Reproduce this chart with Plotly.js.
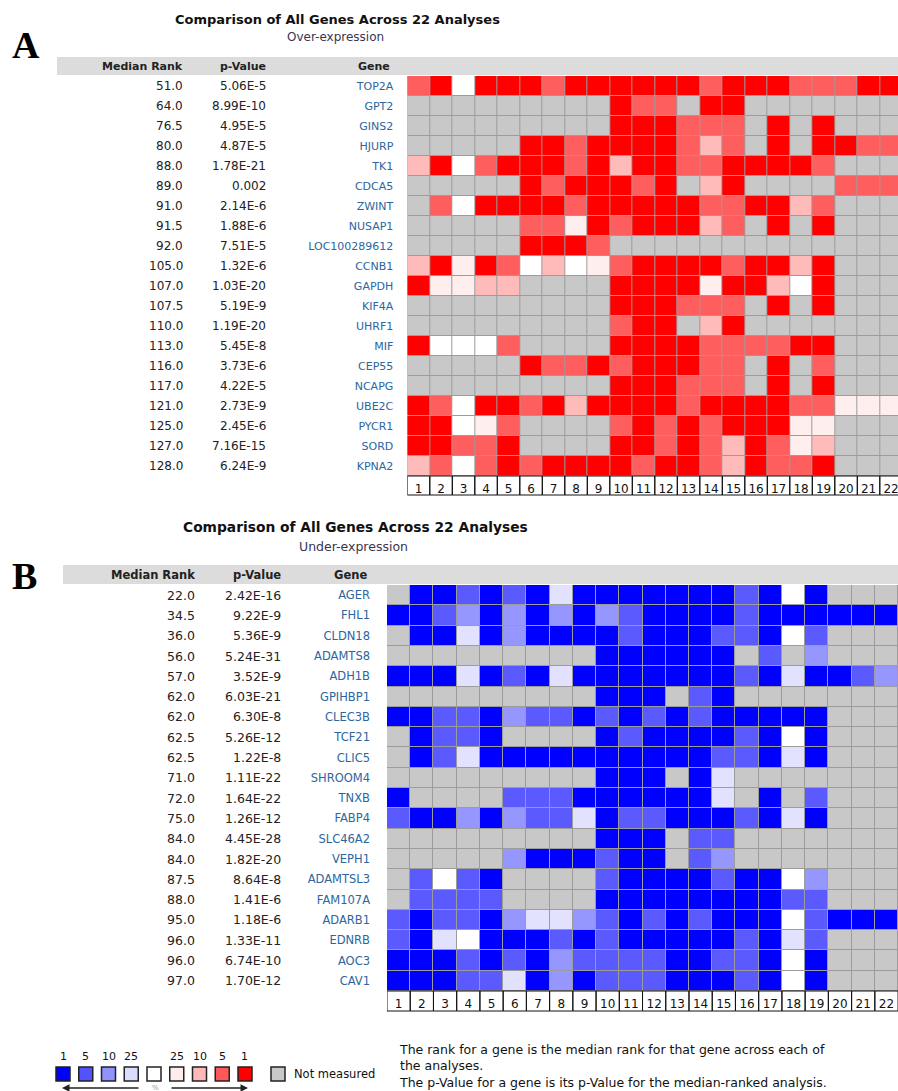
<!DOCTYPE html>
<html><head><meta charset="utf-8">
<script src="https://cdn.plot.ly/plotly-3.0.1.min.js"></script>
<style>html,body{margin:0;padding:0;background:#fff;overflow:hidden;} #chart{width:898px;height:1091px;}</style>
</head><body><div id="chart"></div>
<script>
// ---------- data ----------
const analyses = ["1","2","3","4","5","6","7","8","9","10","11","12","13","14","15","16","17","18","19","20","21","22"];

const genesA = ["TOP2A","GPT2","GINS2","HJURP","TK1","CDCA5","ZWINT","NUSAP1","LOC100289612","CCNB1","GAPDH","KIF4A","UHRF1","MIF","CEP55","NCAPG","UBE2C","PYCR1","SORD","KPNA2"];
const medianRankA = ["51.0","64.0","76.5","80.0","88.0","89.0","91.0","91.5","92.0","105.0","107.0","107.5","110.0","113.0","116.0","117.0","121.0","125.0","127.0","128.0"];
const pValueA = ["5.06E-5","8.99E-10","4.95E-5","4.87E-5","1.78E-21","0.002","2.14E-6","1.88E-6","7.51E-5","1.32E-6","1.03E-20","5.19E-9","1.19E-20","5.45E-8","3.73E-6","4.22E-5","2.73E-9","2.45E-6","7.16E-15","6.24E-9"];
// levels: 0 = not measured, 1 = not significant, 2 = top 25%, 3 = top 10%, 4 = top 5%, 5 = top 1%
const overA = [
 [4,5,1,5,5,5,4,5,5,5,5, 5,5,4,5,5,5,4,4,4,5,5],
 [0,0,0,0,0,0,0,0,0,5,4, 4,0,5,5,0,0,0,0,0,0,0],
 [0,0,0,0,0,0,0,0,0,5,5, 5,4,4,4,0,5,0,5,0,0,0],
 [0,0,0,0,0,5,5,4,5,5,5, 5,4,3,4,0,5,0,5,5,4,4],
 [3,5,1,4,5,5,5,4,5,3,5, 5,4,4,5,5,5,5,4,0,0,0],
 [0,0,0,0,0,5,4,5,5,5,4, 5,0,3,5,0,0,0,0,4,4,4],
 [0,4,1,5,5,5,5,4,5,5,5, 5,5,4,4,5,5,3,4,0,0,0],
 [0,0,0,0,0,4,4,2,5,4,5, 5,5,3,4,0,5,0,5,0,0,0],
 [0,0,0,0,0,5,5,5,4,0,0, 0,0,0,0,0,0,0,0,0,0,0],
 [3,5,2,5,4,1,3,1,2,4,5, 5,5,5,4,5,5,3,5,0,0,0],
 [5,2,2,3,3,0,0,0,0,5,5, 5,5,2,5,5,3,1,5,0,0,0],
 [0,0,0,0,0,0,0,0,0,5,5, 5,4,4,4,0,5,0,5,0,0,0],
 [0,0,0,0,0,0,0,0,0,4,5, 5,0,3,5,0,0,0,0,0,0,0],
 [5,1,1,1,4,0,0,0,0,5,5, 5,5,4,4,4,4,5,5,0,0,0],
 [0,0,0,0,0,5,4,4,5,4,5, 5,5,4,4,0,5,0,4,0,0,0],
 [0,0,0,0,0,0,0,0,0,5,5, 5,4,4,4,0,5,0,5,0,0,0],
 [5,4,1,5,5,4,5,3,5,5,5, 5,4,5,5,5,5,4,4,2,2,2],
 [5,5,1,2,4,0,0,0,0,4,5, 4,5,4,5,5,5,2,2,0,0,0],
 [5,5,4,4,5,0,0,0,0,5,5, 4,5,4,3,5,4,2,3,0,0,0],
 [3,4,1,4,5,4,5,5,5,5,4, 5,5,4,3,5,4,4,5,0,0,0]
];

const genesB = ["AGER","FHL1","CLDN18","ADAMTS8","ADH1B","GPIHBP1","CLEC3B","TCF21","CLIC5","SHROOM4","TNXB","FABP4","SLC46A2","VEPH1","ADAMTSL3","FAM107A","ADARB1","EDNRB","AOC3","CAV1"];
const medianRankB = ["22.0","34.5","36.0","56.0","57.0","62.0","62.0","62.5","62.5","71.0","72.0","75.0","84.0","84.0","87.5","88.0","95.0","96.0","96.0","97.0"];
const pValueB = ["2.42E-16","9.22E-9","5.36E-9","5.24E-31","3.52E-9","6.03E-21","6.30E-8","5.26E-12","1.22E-8","1.11E-22","1.64E-22","1.26E-12","4.45E-28","1.82E-20","8.64E-8","1.41E-6","1.18E-6","1.33E-11","6.74E-10","1.70E-12"];
const underB = [
 [0,5,5,4,5,4,5,2,5,5,5, 5,5,5,5,4,5,1,5,0,0,0],
 [5,5,4,3,5,3,5,3,5,3,4, 5,5,5,5,4,5,5,5,5,5,5],
 [0,5,5,2,5,3,5,5,5,5,4, 5,5,5,4,4,5,1,4,0,0,0],
 [0,0,0,0,0,0,0,0,0,5,5, 5,5,5,5,0,4,0,3,0,0,0],
 [5,5,5,2,5,4,5,2,5,5,5, 5,5,5,5,4,5,2,5,5,4,3],
 [0,0,0,0,0,0,0,0,0,5,5, 5,0,4,5,0,0,0,0,0,0,0],
 [5,5,4,4,5,3,4,4,5,4,5, 4,5,4,5,5,5,5,5,0,0,0],
 [0,5,4,4,5,0,0,0,0,5,4, 5,5,5,5,4,5,1,5,0,0,0],
 [0,5,4,2,5,5,5,5,5,5,5, 5,5,5,4,4,5,2,5,0,0,0],
 [0,0,0,0,0,0,0,0,0,5,5, 5,0,5,2,0,0,0,0,0,0,0],
 [5,0,0,0,0,4,4,4,5,5,5, 5,5,5,2,0,5,0,4,0,0,0],
 [4,5,5,3,5,3,4,4,2,5,4, 4,5,5,5,4,5,2,5,0,0,0],
 [0,0,0,0,0,0,0,0,0,5,5, 5,0,4,4,0,0,0,0,0,0,0],
 [0,0,0,0,0,3,5,5,5,4,5, 5,0,4,3,0,0,0,0,0,0,0],
 [0,4,1,4,5,0,0,0,0,4,5, 5,5,5,4,5,5,1,3,0,0,0],
 [0,4,4,4,4,0,0,0,0,5,5, 5,5,5,5,5,5,4,4,0,0,0],
 [4,5,4,4,5,3,2,2,3,4,5, 4,5,4,5,5,5,1,4,5,5,5],
 [4,5,2,1,5,5,5,4,5,4,5, 5,5,5,5,4,5,2,4,0,0,0],
 [5,5,5,4,5,4,5,3,4,4,4, 4,5,5,4,4,5,1,5,0,0,0],
 [5,5,5,4,4,2,5,3,5,4,4, 4,5,5,5,4,5,1,5,0,0,0]
];

const legendLabels = ["1","5","10","25","","25","10","5","1"];
const noteLines = ["The rank for a gene is the median rank for that gene across each of",
                   "the analyses.",
                   "The p-Value for a gene is its p-Value for the median-ranked analysis."];

// ---------- styles ----------
const W = 898, H = 1091;
const px = v => v / W;
const py = v => 1 - v / H;
const FONT = "DejaVu Sans, Verdana, sans-serif";
const GENE_COLOR = "#2c66a0";
const TXT = "#222222";

const GRAY = "#c8c8c8";
const redLevels  = [GRAY, "#ffffff", "#ffeeee", "#ffbaba", "#ff5e5e", "#ff0000"];
const blueLevels = [GRAY, "#ffffff", "#e2e2ff", "#9696ff", "#5a5aff", "#0000ff"];
const legendColors = ["#0000ff","#5252ff","#9292ff","#dcdcff","#ffffff","#ffecec","#ffb8b8","#ff5858","#ff0000"];

function discreteScale(cols){
  const n = cols.length, cs = [];
  cols.forEach((c,i)=>{ cs.push([i/n, c]); cs.push([(i+1)/n, c]); });
  return cs;
}

const rowIdx = genesA.map((_,i)=>i);
const colNum = analyses.map((_,i)=>i+1);

const traces = [
  {type:"heatmap", x: colNum, y: rowIdx, z: overA, xaxis:"x", yaxis:"y",
   colorscale: discreteScale(redLevels), zmin:-0.5, zmax:5.5, showscale:false,
   xgap:1, ygap:1, hoverinfo:"skip"},
  {type:"heatmap", x: colNum, y: rowIdx, z: underB, xaxis:"x2", yaxis:"y2",
   colorscale: discreteScale(blueLevels), zmin:-0.5, zmax:5.5, showscale:false,
   xgap:1, ygap:1, hoverinfo:"skip"}
];

// geometry of the two panels (pixels)
const P = {
  A: {gx0:407.3, gx1:898, gy0:76, gy1:476, lab1:495, colW:22.5, head:[57,75], bandX:57,
      rankX:185, pX:268, geneX:392, titleX:337, titleY:19, subY:37, sub:"Over-expression", letter:"A", letterY:45,
      titleSize:13, subSize:12, headSize:11, rowSize:12, geneSize:11},
  B: {gx0:387, gx1:898, gy0:585, gy1:991, lab1:1011, colW:23.23, head:[565,584], bandX:63,
      rankX:197, pX:283, geneX:369, titleX:355, titleY:527, subY:546, sub:"Under-expression", letter:"B", letterY:576,
      titleSize:13.8, subSize:12.5, headSize:11.5, rowSize:12.5, geneSize:11.5}
};

function axes(p, genes){
  const span = (p.gx1 - p.gx0)/p.colW;
  return {
    x: {domain:[px(p.gx0), px(p.gx1)], range:[0.5, 0.5+span], tickvals: colNum, ticktext: analyses,
        ticks:"", showgrid:false, zeroline:false, showline:false, fixedrange:true, ticklabeloverflow:"allow",
        tickfont:{family:FONT, size:12, color:"#111"}, ticklabelstandoff:4},
    y: {domain:[py(p.gy1), py(p.gy0)], range:[genes.length-0.5, -0.5], tickvals: rowIdx, ticktext: genes,
        ticks:"", showgrid:false, zeroline:false, showline:false, fixedrange:true,
        tickfont:{family:FONT, size:p.geneSize, color:GENE_COLOR}, ticklabelstandoff: Math.round(p.gx0 - p.geneX - 2)}
  };
}
const aA = axes(P.A, genesA), aB = axes(P.B, genesB);

const shapes = [], annotations = [];

function panel(p, xref, yref, ranks, pvals){
  shapes.push({type:"rect", xref:"paper", yref:"paper", x0:px(p.bandX), x1:1, y0:py(p.head[1]), y1:py(p.head[0]),
               fillcolor:"#dcdcdc", line:{width:0}, layer:"below"});
  colNum.forEach(k=>{
    shapes.push({type:"rect", xref:xref, yref:"paper", x0:k-0.5, x1:k+0.5, y0:py(p.lab1), y1:py(p.gy1),
                 fillcolor:"rgba(0,0,0,0)", line:{color:"#111", width:1}, layer:"below"});
  });
  const hy = (p.head[0]+p.head[1])/2;
  [["Median Rank", p.rankX], ["p-Value", p.pX], ["Gene", p.geneX]].forEach(([t,x])=>{
    annotations.push({text:"<b>"+t+"</b>", xref:"paper", yref:"paper", x:px(x), y:py(hy), xanchor:"right", yanchor:"middle",
                      showarrow:false, font:{family:FONT, size:p.headSize, color:TXT}});
  });
  ranks.forEach((r,i)=>{
    annotations.push({text:r, xref:"paper", yref:yref, x:px(p.rankX), y:i, xanchor:"right", yanchor:"middle",
                      showarrow:false, font:{family:FONT, size:p.rowSize, color:TXT}});
    annotations.push({text:pvals[i], xref:"paper", yref:yref, x:px(p.pX), y:i, xanchor:"right", yanchor:"middle",
                      showarrow:false, font:{family:FONT, size:p.rowSize, color:TXT}});
  });
  annotations.push({text:"<b>Comparison of All Genes Across 22 Analyses</b>", xref:"paper", yref:"paper",
                    x:px(p.titleX), y:py(p.titleY), xanchor:"center", yanchor:"middle", showarrow:false,
                    font:{family:FONT, size:p.titleSize, color:"#111"}});
  annotations.push({text:p.sub, xref:"paper", yref:"paper", x:px(p.titleX - 2), y:py(p.subY), xanchor:"center", yanchor:"middle",
                    showarrow:false, font:{family:FONT, size:p.subSize, color:"#3a3450"}});
  annotations.push({text:"<b>"+p.letter+"</b>", xref:"paper", yref:"paper", x:px(10), y:py(p.letterY), xanchor:"left", yanchor:"middle",
                    showarrow:false, font:{family:"Liberation Serif, Times New Roman, serif", size:38, color:"#000"}});
}
panel(P.A, "x", "y", medianRankA, pValueA);
panel(P.B, "x2", "y2", medianRankB, pValueB);

// legend
const LB = {x0:56, pitch:22.75, w:14, y0:1067, y1:1081};
legendColors.forEach((c,i)=>{
  const x = LB.x0 + i*LB.pitch;
  shapes.push({type:"rect", xref:"paper", yref:"paper", x0:px(x), x1:px(x+LB.w), y0:py(LB.y1), y1:py(LB.y0),
               fillcolor:c, line:{color:"#222", width:1.5}});
  if (legendLabels[i]) annotations.push({text:legendLabels[i], xref:"paper", yref:"paper", x:px(x+LB.w/2), y:py(1056),
               xanchor:"center", yanchor:"middle", showarrow:false, font:{family:FONT, size:11, color:"#111"}});
});
shapes.push({type:"rect", xref:"paper", yref:"paper", x0:px(271), x1:px(285), y0:py(LB.y1), y1:py(LB.y0),
             fillcolor:GRAY, line:{color:"#222", width:1.5}});
annotations.push({text:"Not measured", xref:"paper", yref:"paper", x:px(292), y:py(1074), xanchor:"left", yanchor:"middle",
                  showarrow:false, font:{family:FONT, size:11.5, color:"#111"}});
annotations.push({text:"%", xref:"paper", yref:"paper", x:px(155), y:py(1088), xanchor:"center", yanchor:"middle",
                  showarrow:false, font:{family:FONT, size:7, color:"#999"}});
annotations.push({text:"", xref:"paper", yref:"paper", x:px(62), y:py(1088), ax:px(140), ay:py(1088), axref:"paper", ayref:"paper",
                  showarrow:true, arrowhead:2, arrowsize:1, arrowwidth:1.5, arrowcolor:"#222"});
annotations.push({text:"", xref:"paper", yref:"paper", x:px(248), y:py(1088), ax:px(170), ay:py(1088), axref:"paper", ayref:"paper",
                  showarrow:true, arrowhead:2, arrowsize:1, arrowwidth:1.5, arrowcolor:"#222"});
annotations.push({text: noteLines.join("<br>"), xref:"paper", yref:"paper", x:px(397), y:py(1066), xanchor:"left", yanchor:"middle",
                  align:"left", showarrow:false, font:{family:FONT, size:12.5, color:"#111"}});

const layout = {
  width: W, height: H, margin:{l:0,r:0,t:0,b:0}, paper_bgcolor:"#ffffff", plot_bgcolor:"#9c9c9c",
  showlegend:false,
  xaxis: Object.assign(aA.x, {anchor:"y"}),
  yaxis: Object.assign(aA.y, {anchor:"x"}),
  xaxis2: Object.assign(aB.x, {anchor:"y2"}),
  yaxis2: Object.assign(aB.y, {anchor:"x2"}),
  shapes: shapes, annotations: annotations
};
Plotly.newPlot("chart", traces, layout, {staticPlot:true, displayModeBar:false});
</script></body></html>
